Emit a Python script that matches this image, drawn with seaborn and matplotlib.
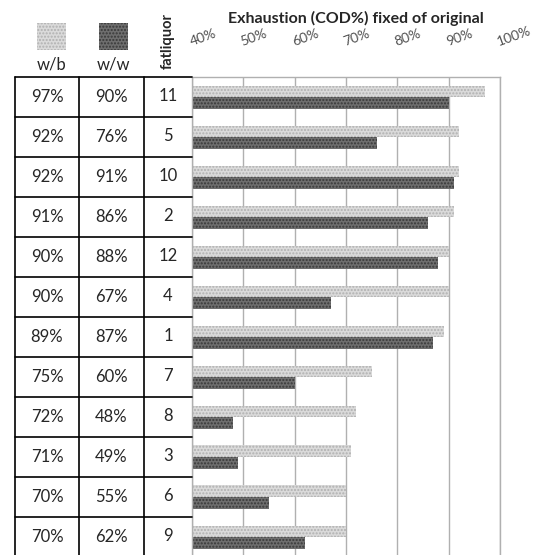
import numpy as np
import pandas as pd
import seaborn as sns
import matplotlib.pyplot as plt
from matplotlib.patches import Rectangle

fatliquor = ['11', '5', '10', '2', '12', '4', '1', '7', '8', '3', '6', '9']
w_b = [97, 92, 92, 91, 90, 90, 89, 75, 72, 71, 70, 70]
w_w = [90, 76, 91, 86, 88, 67, 87, 60, 48, 49, 55, 62]
series = ['w/b', 'w/w']
x_ticks = [40, 50, 60, 70, 80, 90, 100]

face = {'w/b': '#dadada', 'w/w': '#6e6e6e'}
dots = {'w/b': '#b0b0b0', 'w/w': '#383838'}
grid_col = '#b0b0b0'

sns.set_style('white')
plt.rcParams['font.family'] = ['Lato', 'DejaVu Sans']
plt.rcParams['hatch.linewidth'] = 1.0

df = pd.DataFrame({'fatliquor': fatliquor, 'w/b': w_b, 'w/w': w_w})
long = df.melt(id_vars='fatliquor', value_vars=series, var_name='series', value_name='value')

W, H = 537, 555
fig = plt.figure(figsize=(W / 100, H / 100), dpi=100)

# bar panel
ax = fig.add_axes([192 / W, 1 - 557 / H, (500 - 192) / W, (557 - 77) / H])
sns.barplot(data=long, x='value', y='fatliquor', hue='series', order=fatliquor,
            hue_order=series, orient='h', width=0.575, palette=face,
            legend=False, ax=ax, saturation=1)
for cont, s in zip(ax.containers, series):
    for p in cont:
        p.set_facecolor(face[s])
        p.set_edgecolor(dots[s])
        p.set_linewidth(0)
        p.set_hatch('.....')

ax.set_xlim(40, 100)
ax.set_ylim(len(fatliquor) - 0.5, -0.5)
ax.xaxis.tick_top()
ax.set_xticks(x_ticks)
ax.set_xticklabels([f'{v}%' for v in x_ticks], rotation=20, ha='left',
                   rotation_mode='anchor', fontsize=10, color='#505050')
ax.tick_params(axis='x', length=0, pad=21)
ax.set_yticks([])
ax.set_xlabel('')
ax.set_ylabel('')
ax.grid(axis='x', color=grid_col, lw=1)
ax.set_axisbelow(True)
for sp in ax.spines.values():
    sp.set_color(grid_col)
    sp.set_linewidth(1)

fig.text(356 / W, 1 - 18 / H, 'Exhaustion (COD%) fixed of original',
         ha='center', va='center', fontsize=11.5, fontweight='bold')

# table panel on the left
tab = fig.add_axes([15 / W, 1 - 557 / H, (192 - 15) / W, (557 - 77) / H])
tab.set_xlim(0, 177)
tab.set_ylim(len(fatliquor) - 0.5, -0.5)
tab.axis('off')
col_edges = [0, 64, 129]
col_centers = [32, 96.5, 153]
for x in col_edges:
    tab.plot([x, x], [-0.5, len(fatliquor) - 0.5], color='black', lw=1.2, clip_on=False)
for i in range(len(fatliquor) + 1):
    tab.plot([0, 177], [i - 0.5, i - 0.5], color='black', lw=1.2, clip_on=False)
for i, (b, w, f) in enumerate(zip(w_b, w_w, fatliquor)):
    tab.text(col_centers[0], i, f'{b}%', ha='center', va='center', fontsize=12)
    tab.text(col_centers[1], i, f'{w}%', ha='center', va='center', fontsize=12)
    tab.text(col_centers[2], i - 0.03, f, ha='center', va='center', fontsize=12)

# header: legend swatches and labels
ov = fig.add_axes([0, 0, 1, 1])
ov.set_xlim(0, W)
ov.set_ylim(H, 0)
ov.axis('off')
for s, x0 in zip(series, [37, 99]):
    ov.add_patch(Rectangle((x0, 23), 29, 27, facecolor=face[s], edgecolor=dots[s],
                           lw=0, hatch='.....'))
    ov.text(x0 + 14.5, 65, s, ha='center', va='center', fontsize=12)
ov.text(168, 41, 'fatliquor', rotation=90, ha='center', va='center',
        fontsize=10.5, fontweight='bold')

fig.savefig('out.png', dpi=100)
